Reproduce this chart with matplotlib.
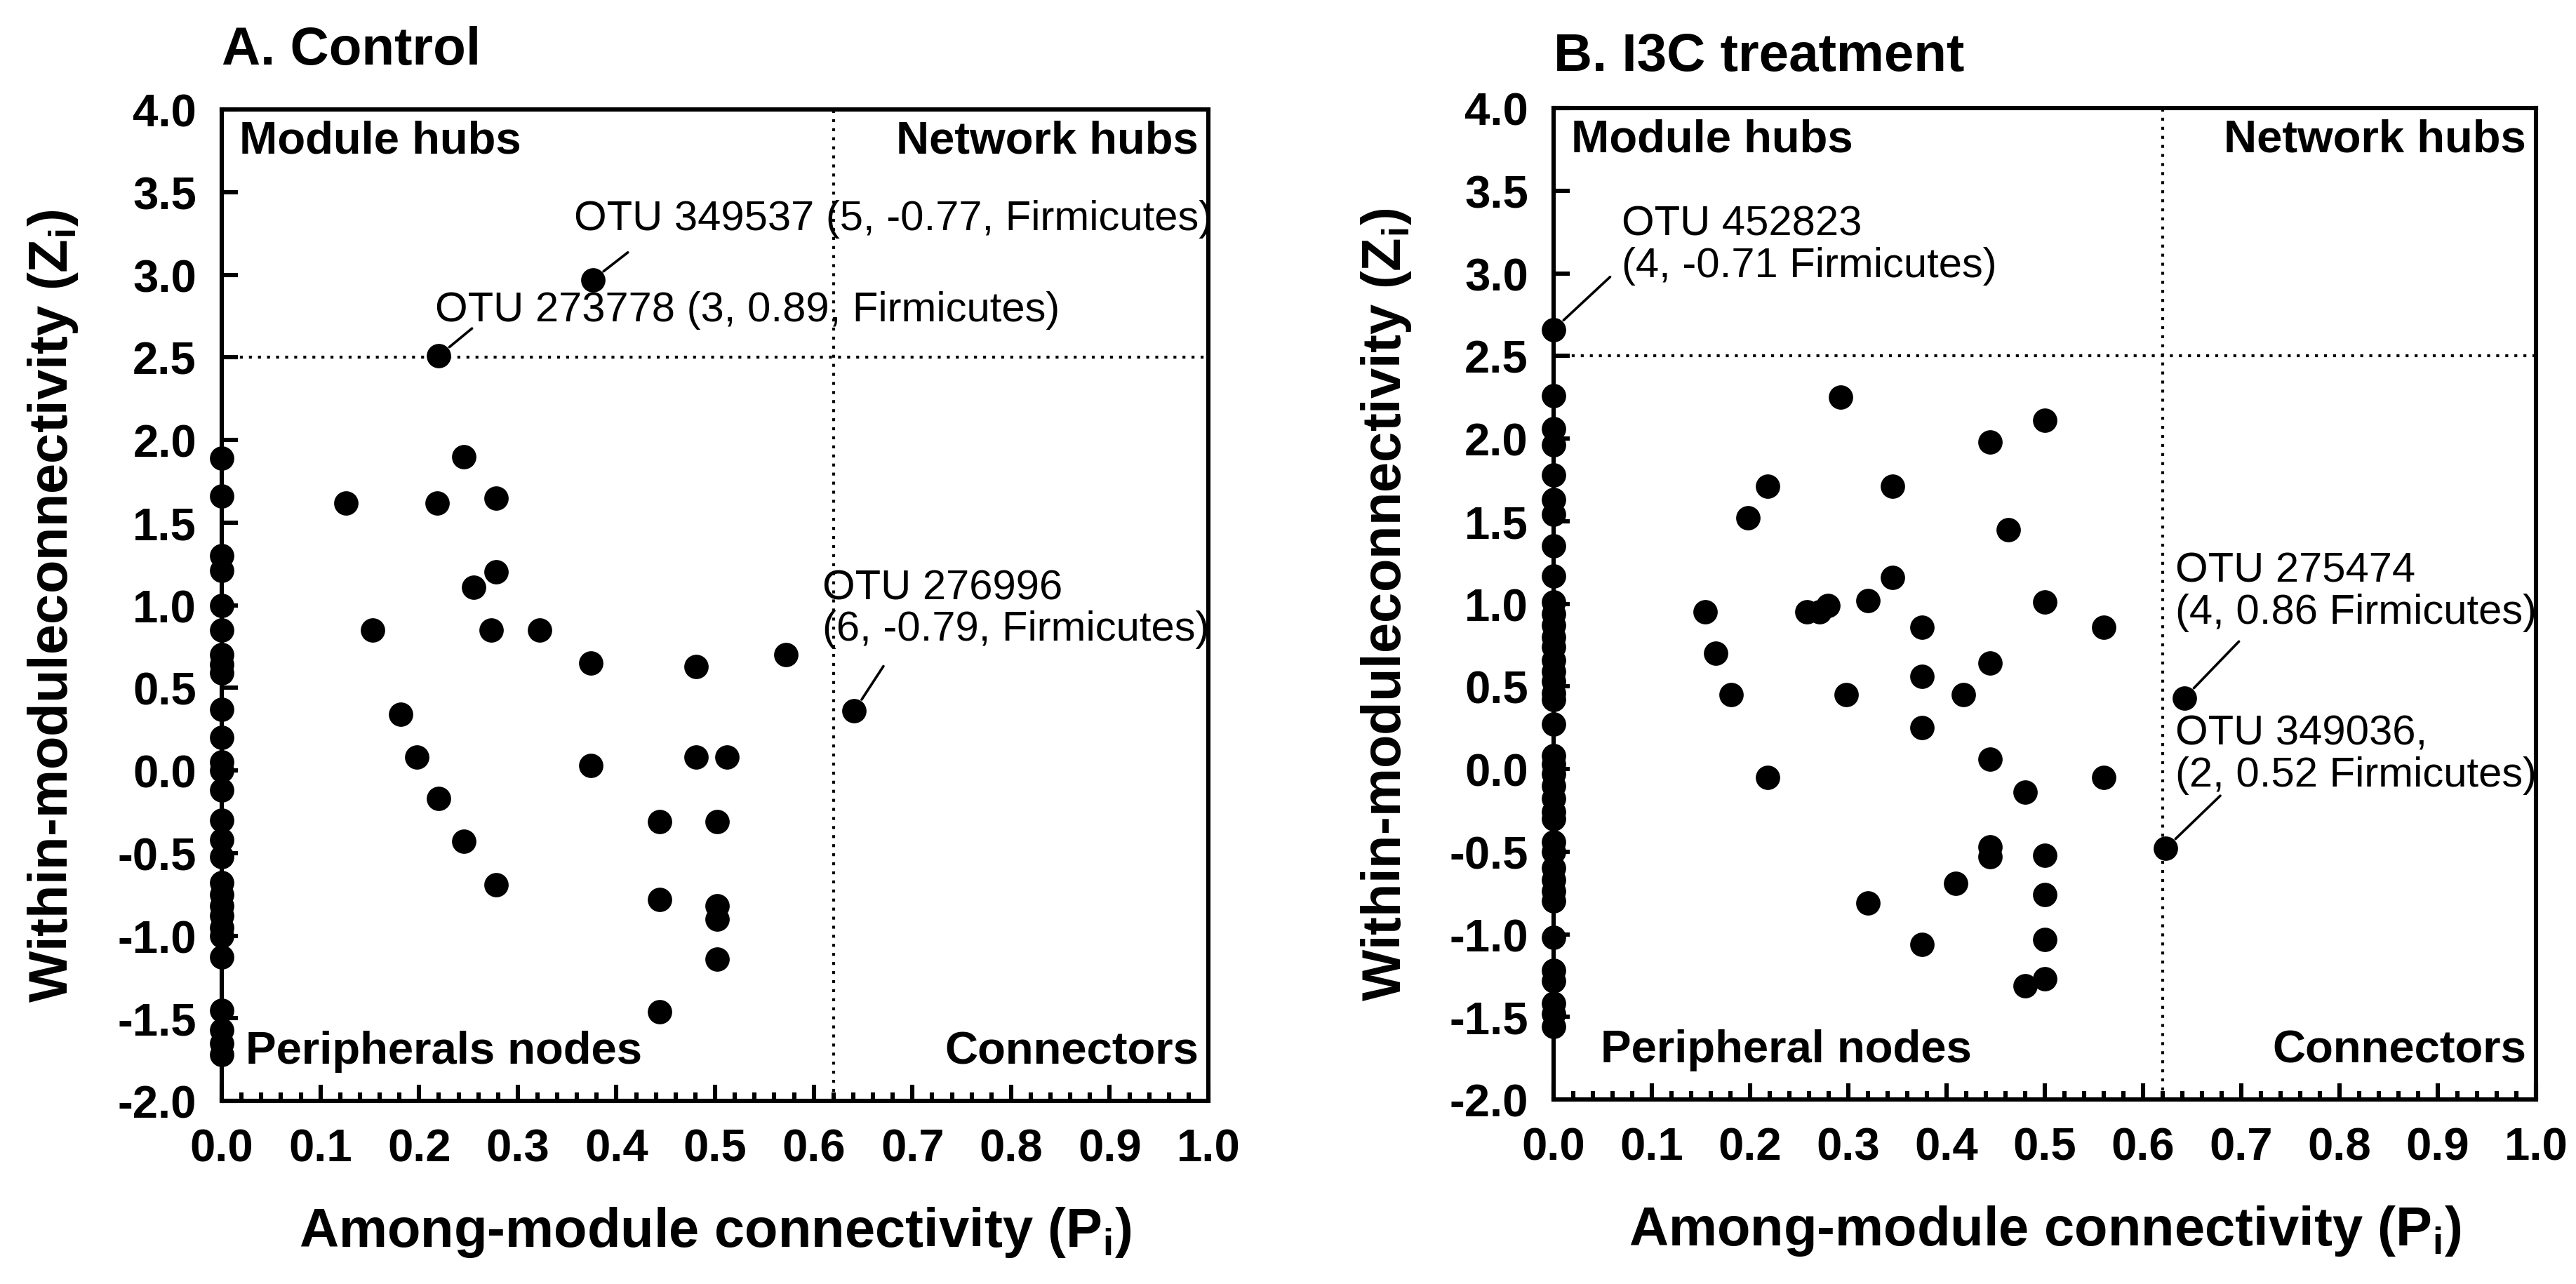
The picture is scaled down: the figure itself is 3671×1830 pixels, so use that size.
import matplotlib
matplotlib.use("Agg")
import matplotlib.pyplot as plt
from matplotlib.ticker import MultipleLocator, FormatStrFormatter

plt.rcParams["font.family"] = ["Liberation Sans", "DejaVu Sans"]
plt.rcParams["mathtext.fontset"] = "custom"
plt.rcParams["mathtext.rm"] = "Liberation Sans"
plt.rcParams["mathtext.bf"] = "Liberation Sans:bold"

# Threshold lines (Pi = 0.62, Zi = 2.5)
P_CUT = 0.62
Z_CUT = 2.5

# --- A. Control ---
ctrl_zero_z = [1.89, 1.66, 1.30, 1.21, 1.00, 0.85, 0.70, 0.64, 0.59, 0.37,
               0.20, 0.05, 0.00, -0.12, -0.30, -0.42, -0.52, -0.68, -0.75,
               -0.82, -0.88, -0.95, -1.00, -1.13, -1.45, -1.57, -1.65, -1.72]
ctrl_p = [0.126, 0.153, 0.181, 0.198, 0.220, 0.218, 0.220, 0.245, 0.245,
          0.255, 0.278, 0.278, 0.273, 0.278, 0.322, 0.376, 0.374, 0.374,
          0.444, 0.444, 0.444, 0.481, 0.481, 0.502, 0.502, 0.502, 0.502,
          0.512, 0.572, 0.641]
ctrl_z = [1.62, 0.85, 0.34, 0.08, 2.51, 1.62, -0.17, 1.90, -0.43,
          1.11, 1.65, 1.20, 0.85, -0.69, 0.85, 2.97, 0.65, 0.03,
          -0.31, -0.78, -1.46, 0.63, 0.08, -0.31, -0.82, -0.90, -1.14,
          0.08, 0.70, 0.36]
ctrl_notes = [
    ("OTU 349537 (5, -0.77, Firmicutes)", (0.376, 2.97), (0.357, 3.34), (18, 14)),
    ("OTU 273778 (3, 0.89, Firmicutes)", (0.220, 2.51), (0.216, 2.79), (17, 14)),
    ("OTU 276996\n(6, -0.79, Firmicutes)", (0.641, 0.36), (0.609, 0.98), (15, 23)),
]

# --- B. I3C treatment ---
trt_zero_z = [2.66, 2.26, 2.06, 1.96, 1.78, 1.63, 1.54, 1.35, 1.17, 1.01,
              0.94, 0.87, 0.80, 0.74, 0.66, 0.59, 0.53, 0.46, 0.42, 0.27,
              0.08, 0.03, -0.03, -0.10, -0.18, -0.26, -0.30, -0.44, -0.50,
              -0.60, -0.67, -0.74, -0.80, -1.02, -1.22, -1.28, -1.42, -1.48,
              -1.56]
trt_p = [0.154, 0.165, 0.181, 0.198, 0.218, 0.218, 0.258, 0.271, 0.279,
         0.292, 0.298, 0.320, 0.320, 0.345, 0.345, 0.375, 0.375, 0.375,
         0.375, 0.409, 0.417, 0.444, 0.444, 0.444, 0.444, 0.444, 0.463,
         0.480, 0.480, 0.500, 0.500, 0.500, 0.500, 0.500, 0.500, 0.560,
         0.560, 0.642, 0.623]
trt_z = [0.95, 0.70, 0.45, 1.52, 1.71, -0.05, 0.95, 0.95, 0.99,
         2.25, 0.45, 1.02, -0.81, 1.71, 1.16, 0.86, 0.56, 0.25,
         -1.06, -0.69, 0.45, 1.98, 0.64, 0.06, -0.47, -0.53, 1.45,
         -0.14, -1.31, 2.11, 1.01, -0.52, -0.76, -1.03, -1.27, 0.86,
         -0.05, 0.43, -0.48]
trt_notes = [
    ("OTU 452823\n(4, -0.71 Firmicutes)", (0.0, 2.66), (0.069, 3.175), (29, 27)),
    ("OTU 275474\n(4, 0.86 Firmicutes)", (0.642, 0.43), (0.633, 1.075), (28, 29)),
    ("OTU 349036,\n(2, 0.52 Firmicutes)", (0.623, -0.48), (0.633, 0.09), (28, 27)),
]

panels = [
    ("A. Control", ctrl_zero_z, ctrl_p, ctrl_z, ctrl_notes, "Peripherals nodes",
     [0.0861, 0.1425, 0.3830, 0.7717], -0.171, 1.060),
    ("B. I3C treatment", trt_zero_z, trt_p, trt_z, trt_notes, "Peripheral nodes",
     [0.6031, 0.1436, 0.3814, 0.7717], -0.170, 1.052),
]

fig = plt.figure(figsize=(18.355, 9.155), dpi=200)

for title, zero_z, ps, zs, notes, periph, rect, ylab_x, title_y in panels:
    ax = fig.add_axes(rect)
    ax.set_xlim(0, 1.0)
    ax.set_ylim(-2.0, 4.0)

    ax.axvline(P_CUT, color="black", ls=(0, (1, 2.1)), lw=1.5, zorder=1)
    ax.axhline(Z_CUT, color="black", ls=(0, (1, 2.1)), lw=1.5, zorder=1)

    ax.plot([0.0] * len(zero_z), zero_z, "o", color="black", ms=11.5,
            clip_on=False, zorder=5)
    ax.plot(ps, zs, "o", color="black", ms=11.5, clip_on=False, zorder=5)

    for text, pt, txt_pos, off in notes:
        ax.annotate("", xy=pt, xytext=off, textcoords="offset points",
                    xycoords="data",
                    arrowprops=dict(arrowstyle="-", color="black", lw=1.3,
                                    shrinkA=0, shrinkB=7))
        ax.text(txt_pos[0], txt_pos[1], text, ha="left", va="center",
                fontsize=21.5, linespacing=1.1)

    qkw = dict(fontsize=23.5, fontweight="bold", va="center")
    ax.text(0.018, 3.81, "Module hubs", ha="left", **qkw)
    ax.text(0.99, 3.81, "Network hubs", ha="right", **qkw)
    ax.text(0.024 if periph.startswith("Peripherals") else 0.048, -1.70,
            periph, ha="left", **qkw)
    ax.text(0.99, -1.70, "Connectors", ha="right", **qkw)

    ax.text(0.0, title_y, title, transform=ax.transAxes, ha="left",
            va="center", fontsize=27.5, fontweight="bold")

    ax.xaxis.set_major_locator(MultipleLocator(0.1))
    ax.xaxis.set_minor_locator(MultipleLocator(0.02))
    ax.yaxis.set_major_locator(MultipleLocator(0.5))
    ax.xaxis.set_major_formatter(FormatStrFormatter("%.1f"))
    ax.yaxis.set_major_formatter(FormatStrFormatter("%.1f"))
    ax.tick_params(axis="both", which="both", direction="in", top=False,
                   right=False, width=2.2)
    ax.tick_params(axis="both", which="major", length=8.4, labelsize=23.5)
    ax.tick_params(axis="x", which="minor", length=4.5)
    ax.tick_params(axis="x", which="major", pad=14)
    ax.tick_params(axis="y", which="major", pad=13)
    for lab in ax.get_xticklabels() + ax.get_yticklabels():
        lab.set_fontweight("bold")
    for sp in ax.spines.values():
        sp.set_linewidth(2.2)

    ax.set_xlabel(r"Among-module connectivity (P$_{\mathbf{i}}$)",
                  fontsize=28, fontweight="bold")
    ax.set_ylabel(r"Within-moduleconnectivity (Z$_{\mathbf{i}}$)",
                  fontsize=28, fontweight="bold")
    ax.xaxis.set_label_coords(0.5, -0.132)
    ax.xaxis.label.set_va("center")
    ax.yaxis.set_label_coords(ylab_x, 0.5)
    ax.yaxis.label.set_va("center")

fig.savefig("out.png", dpi=200)
